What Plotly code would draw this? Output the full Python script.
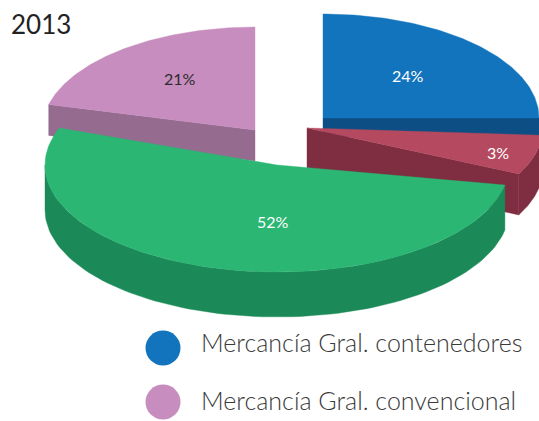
import math
import plotly.graph_objects as go

# Data
year_title = "2013"
slice_values = [24, 3, 52, 21]
slice_colors = ["#1274bd", "#b5495f", "#2bb673", "#c78dbf"]
wall_colors = ["#0d4f85", "#7f2d40", "#1b8a58", "#966b90"]
label_colors = ["#ffffff", "#ffffff", "#ffffff", "#2b2b2b"]
legend_labels = ["Mercancía Gral. contenedores", "Mercancía Gral. convencional"]
legend_colors = ["#1274bd", "#c78dbf"]

# Drawing geometry of the exploded 3D pie, in picture units
start_deg = [0, 94, 100.8, 284.4]
end_deg = [90, 116.2, 290.2, 360]
centers = [(323, 118), (307, 128), (277, 165), (255, 130)]
radii = [(216, 104), (236, 104), (232, 107), (213, 103)]
depths = [19, 41, 45, 31]
label_pos = [(408, 75), (498, 152), (273, 221), (180, 78)]
draw_order = [0, 1, 3, 2]

W, H = 539, 421


def arc(i, a0, a1, dy=0, n=90):
    cx, cy = centers[i]
    rx, ry = radii[i]
    pts = []
    for k in range(n + 1):
        a = math.radians(a0 + (a1 - a0) * k / n)
        pts.append((cx + rx * math.sin(a), cy - ry * math.cos(a) + dy))
    return pts


def poly(pts, color):
    return go.Scatter(
        x=[p[0] for p in pts] + [pts[0][0]],
        y=[p[1] for p in pts] + [pts[0][1]],
        mode="lines",
        fill="toself",
        fillcolor=color,
        line=dict(width=0.4, color=color),
        hoverinfo="skip",
        showlegend=False,
    )


fig = go.Figure()
for i in draw_order:
    s, e, d = start_deg[i], end_deg[i], depths[i]
    c = centers[i]
    # radial wall that faces the viewer
    if e < 180:
        p = arc(i, e, e, n=1)[0]
        fig.add_trace(poly([c, p, (p[0], p[1] + d), (c[0], c[1] + d)], wall_colors[i]))
    if s > 180:
        p = arc(i, s, s, n=1)[0]
        fig.add_trace(poly([c, p, (p[0], p[1] + d), (c[0], c[1] + d)], wall_colors[i]))
    # outer rim
    r0, r1 = max(s, 90), min(e, 270)
    if r1 > r0:
        top = arc(i, r0, r1)
        bottom = arc(i, r0, r1, dy=d)
        fig.add_trace(poly(top + bottom[::-1], wall_colors[i]))
    # top face
    fig.add_trace(poly([c] + arc(i, s, e), slice_colors[i]))

for i, v in enumerate(slice_values):
    fig.add_annotation(x=label_pos[i][0], y=label_pos[i][1], text=f"{v}%", showarrow=False,
                       font=dict(family="Lato", size=16, color=label_colors[i]))

legend_y = [348, 402]
legend_text_y = [342, 400]
fig.add_trace(go.Scatter(x=[163, 163], y=legend_y, mode="markers",
                         marker=dict(size=35, color=legend_colors, line=dict(width=0)),
                         hoverinfo="skip", showlegend=False))
for name, y in zip(legend_labels, legend_text_y):
    fig.add_annotation(x=199, y=y, text=name, showarrow=False, xanchor="left",
                       font=dict(family="Lato Light, Lato", size=25, color="#3a3a3a"))

fig.add_annotation(x=9, y=24, text=year_title, showarrow=False, xanchor="left",
                   font=dict(family="Lato", size=26, color="#222222"))

fig.update_layout(
    width=W, height=H, margin=dict(l=0, r=0, t=0, b=0),
    paper_bgcolor="white", plot_bgcolor="white",
    xaxis=dict(range=[0, W], visible=False, fixedrange=True),
    yaxis=dict(range=[H, 0], visible=False, fixedrange=True),
)
fig.write_html("out.html", post_script="document.body.style.margin='0';document.body.style.overflow='hidden';",
               config=dict(displayModeBar=False))
